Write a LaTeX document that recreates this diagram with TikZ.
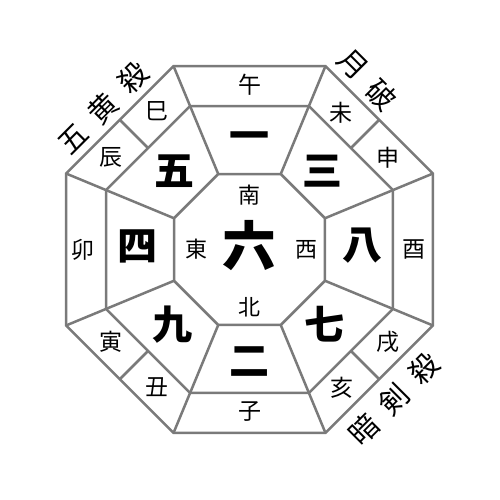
\documentclass[tikz,border=0pt]{standalone}
\usepackage{fontspec}
\newfontfamily\cjk{Noto Sans CJK JP}
\definecolor{linegray}{RGB}{122,122,122}
\begin{document}
\begin{tikzpicture}[x=1pt,y=1pt,
  edge/.style={draw=linegray, line width=2.5pt, line join=miter},
  branch/.style={inner sep=0pt, font=\cjk\fontsize{23}{23}\selectfont},
  dirlab/.style={inner sep=0pt, font=\cjk\fontsize{22}{22}\selectfont},
  num/.style={inner sep=0pt, font=\cjk\bfseries\fontsize{40}{40}\selectfont},
  bignum/.style={inner sep=0pt, font=\cjk\bfseries\fontsize{54}{54}\selectfont},
  sha/.style={inner sep=0pt, font=\cjk\fontsize{29}{29}\selectfont}]
\useasboundingbox (-249.5,-250.5) rectangle (250.5,249.5);
\fill[white] (-249.5,-250.5) rectangle (250.5,249.5);
% octagon vertices
\foreach \k in {0,...,7}{
  \coordinate (o\k) at ({22.5+45*\k}:198.6);
  \coordinate (m\k) at ({22.5+45*\k}:155.3);
  \coordinate (i\k) at ({22.5+45*\k}:81.7);
}
\foreach \k in {0,...,3}{
  \coordinate (sa\k) at ({45+90*\k}:143.5);
  \coordinate (sb\k) at ({45+90*\k}:183.5);
}
\draw[edge] (o0)--(o1)--(o2)--(o3)--(o4)--(o5)--(o6)--(o7)--cycle;
\draw[edge] (m0)--(m1)--(m2)--(m3)--(m4)--(m5)--(m6)--(m7)--cycle;
\draw[edge] (i0)--(i1)--(i2)--(i3)--(i4)--(i5)--(i6)--(i7)--cycle;
\foreach \k in {0,...,7}{ \draw[edge] (i\k)--(o\k); }
\foreach \k in {0,...,3}{ \draw[edge] (sa\k)--(sb\k); }
% centre
\node[bignum] (c6) at (0,4) {六};
\node[dirlab] (dS) at (0,54) {南};
\node[dirlab] (dN) at (0,-58) {北};
\node[dirlab] (dE) at (-53,0) {東};
\node[dirlab] (dW) at (57,0) {西};
% middle ring
\node[num] (n1) at (0,108) {一};
\node[num] (n2) at (0,-112) {二};
\node[num] (n4) at (-112,3) {四};
\node[num] (n8) at (113,4) {八};
\node[num] (n5) at (-75,78) {五};
\node[num] (n3) at (73,78) {三};
\node[num] (n9) at (-77,-75) {九};
\node[num] (n7) at (75,-75) {七};
% outer ring
\node[branch] (bWu) at (0,164.5) {午};
\node[branch] (bZi) at (0,-162) {子};
\node[branch] (bMao) at (-166,0) {卯};
\node[branch] (bYou) at (164,0) {酉};
\node[branch] (bSi) at (123.75:166) {巳};
\node[branch] (bChen) at (146.25:166) {辰};
\node[branch] (bWei) at (56.25:164) {未};
\node[branch] (bShen) at (33.75:166) {申};
\node[branch] (bXu) at (-33.75:166) {戌};
\node[branch] (bHai) at (-56.25:166) {亥};
\node[branch] (bChou) at (-123.75:166) {丑};
\node[branch] (bYin) at (-146.25:166) {寅};
% outside labels
\node[sha, rotate=45] (gohou) at (-146.5,141.5) {五\hspace{14pt}黄\hspace{14pt}殺};
\node[sha, rotate=-45] (getsu) at (103,184.5) {月};
\node[sha, rotate=-45] (ha) at (132,155) {破};
\node[sha, rotate=45] (anken) at (144.5,-149.5) {暗\hspace{14pt}剣\hspace{14pt}殺};
\end{tikzpicture}
\end{document}
